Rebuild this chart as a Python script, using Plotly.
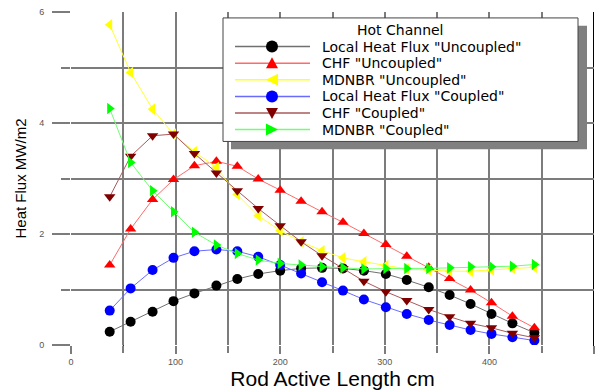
import plotly.graph_objects as go

# ---- data ----
rod_length = [37, 57, 78, 98, 118, 139, 159, 179, 200, 220, 240, 260, 280, 301,
              321, 342, 362, 382, 402, 422, 443]
lhf_uncoupled = [0.24, 0.42, 0.60, 0.79, 0.93, 1.07, 1.19, 1.28, 1.34, 1.38, 1.39,
                 1.38, 1.34, 1.28, 1.17, 1.04, 0.90, 0.74, 0.56, 0.39, 0.22]
chf_uncoupled = [1.44, 2.09, 2.62, 2.98, 3.23, 3.31, 3.22, 2.99, 2.79, 2.59, 2.40,
                 2.21, 2.01, 1.81, 1.60, 1.40, 1.20, 0.99, 0.76, 0.52, 0.31]
mdnbr_uncoupled = [5.77, 4.91, 4.25, 3.80, 3.48, 3.20, 2.71, 2.33, 2.06, 1.86, 1.70,
                   1.57, 1.50, 1.43, 1.37, 1.35, 1.33, 1.33, 1.35, 1.38, 1.40]
lhf_coupled = [0.62, 1.02, 1.35, 1.57, 1.69, 1.72, 1.69, 1.59, 1.44, 1.29, 1.13,
               0.98, 0.82, 0.68, 0.56, 0.45, 0.36, 0.27, 0.20, 0.14, 0.08]
chf_coupled = [2.67, 3.40, 3.77, 3.80, 3.45, 3.10, 2.78, 2.46, 2.15, 1.86, 1.61,
               1.38, 1.15, 0.96, 0.80, 0.64, 0.51, 0.39, 0.31, 0.21, 0.13]
mdnbr_coupled = [4.26, 3.29, 2.78, 2.40, 2.03, 1.80, 1.65, 1.53, 1.47, 1.44, 1.41,
                 1.39, 1.37, 1.38, 1.38, 1.38, 1.39, 1.41, 1.41, 1.42, 1.45]

legend_title = 'Hot Channel'
series_names = ['Local Heat Flux "Uncoupled"', 'CHF "Uncoupled"', 'MDNBR "Uncoupled"',
                'Local Heat Flux "Coupled"', 'CHF "Coupled"', 'MDNBR "Coupled"']
series_values = [lhf_uncoupled, chf_uncoupled, mdnbr_uncoupled,
                 lhf_coupled, chf_coupled, mdnbr_coupled]
marker_colors = ['#000000', '#ff0000', '#ffff00', '#0000ff', '#800000', '#00ff00']
line_colors = ['#707070', '#ff6a6a', '#ffff30', '#6a6aff', '#a85a5a', '#70ff70']
symbols = ['circle', 'triangle-up', 'triangle-left', 'circle', 'triangle-down', 'triangle-right']

x_tick_vals = [0, 100, 200, 300, 400, 500]
y_tick_vals = [0, 2, 4, 6]

# ---- figure geometry (pixels) ----
W, H = 601, 392
ML, MR, MT, MB = 71, 7, 8, 47
PW, PH = W - ML - MR, H - MT - MB


def px_x(p):
    return (p - ML) / PW


def px_y(p):
    return (H - MB - p) / PH


fig = go.Figure()
for name, vals, mc, lc, sym in zip(series_names, series_values, marker_colors,
                                   line_colors, symbols):
    fig.add_trace(go.Scatter(
        x=rod_length, y=vals, name=name, mode='lines+markers',
        line=dict(color=lc, width=1),
        marker=dict(color=mc, symbol=sym, size=10, line=dict(width=0)),
    ))

# ---- legend drawn as a boxed key (shapes + text annotations) ----
shapes = [
    dict(type='line', xref='x', yref='paper', x0=50, x1=50, y0=-0.02, y1=1,
         line=dict(color='black', width=1), layer='below'),
    dict(type='line', xref='x', yref='paper', x0=500, x1=500, y0=-0.024, y1=1,
         line=dict(color='black', width=2), layer='below'),
    dict(type='rect', xref='paper', yref='paper',
         x0=px_x(231), x1=px_x(587), y0=px_y(147), y1=px_y(22),
         fillcolor='#808080', line=dict(width=0), layer='above'),
    dict(type='rect', xref='paper', yref='paper',
         x0=px_x(223), x1=px_x(578), y0=px_y(139), y1=px_y(14),
         fillcolor='white', line=dict(color='#444444', width=1), layer='above'),
]
LEG_FONT = dict(family='DejaVu Sans, sans-serif', size=14, color='black')
annotations = [
    dict(text=legend_title, xref='paper', yref='paper', x=px_x(400), y=px_y(26),
         xanchor='center', yanchor='middle', showarrow=False, font=LEG_FONT,
         borderpad=0),
]

tri_paths = {
    'triangle-up': 'M -6 -5 L 6 -5 L 0 6 Z',
    'triangle-down': 'M -6 5 L 6 5 L 0 -6 Z',
    'triangle-left': 'M 6 -6 L 6 6 L -6 0 Z',
    'triangle-right': 'M -6 -6 L -6 6 L 6 0 Z',
}
row_y0, row_dy = 43, 16.8
for i, (name, mc, lc, sym) in enumerate(zip(series_names, marker_colors, line_colors, symbols)):
    ry = px_y(row_y0 + i * row_dy)
    shapes.append(dict(type='line', xref='paper', yref='paper',
                       x0=px_x(235), x1=px_x(310), y0=ry, y1=ry,
                       line=dict(color=lc, width=1.5), layer='above'))
    if sym == 'circle':
        shapes.append(dict(type='circle', xref='paper', yref='paper',
                           xsizemode='pixel', ysizemode='pixel',
                           xanchor=px_x(272), yanchor=ry, x0=-6, x1=6, y0=-6, y1=6,
                           fillcolor=mc, line=dict(width=0), layer='above'))
    else:
        shapes.append(dict(type='path', xref='paper', yref='paper',
                           xsizemode='pixel', ysizemode='pixel',
                           xanchor=px_x(272), yanchor=ry, path=tri_paths[sym],
                           fillcolor=mc, line=dict(width=0), layer='above'))
    annotations.append(dict(text=name, xref='paper', yref='paper', x=px_x(321), y=ry,
                            xanchor='left', yanchor='middle', showarrow=False,
                            font=LEG_FONT, borderpad=0))

GRID = '#7c7c7c'
fig.update_layout(
    width=W, height=H,
    margin=dict(l=ML, r=MR, t=MT, b=MB),
    paper_bgcolor='white', plot_bgcolor='white',
    font=dict(family='Liberation Sans, Arial, sans-serif', color='black'),
    showlegend=False,
    xaxis=dict(
        range=[0, 500], tickvals=x_tick_vals, showgrid=True, gridcolor=GRID, gridwidth=2,
        zeroline=False, showline=False,
        ticks='outside', ticklen=8, tickwidth=2, tickcolor=GRID,
        minor=dict(dtick=50, showgrid=True, gridcolor=GRID, gridwidth=2,
                   ticks='outside', ticklen=7, tickwidth=2, tickcolor=GRID),
        tickfont=dict(size=9, color='#555555'),
        title=dict(text='Rod Active Length cm', font=dict(size=21, color='black'),
                   standoff=3),
    ),
    yaxis=dict(
        range=[0, 6], tickvals=y_tick_vals, showgrid=True, gridcolor=GRID, gridwidth=2,
        zeroline=False, showline=False,
        ticks='outside', ticklen=18, tickwidth=2, tickcolor=GRID,
        ticklabelstandoff=6,
        minor=dict(dtick=1, showgrid=True, gridcolor=GRID, gridwidth=2,
                   ticks='outside', ticklen=9, tickwidth=2, tickcolor=GRID),
        tickfont=dict(size=9, color='#555555'),
        title=dict(text='Heat Flux MW/m2', font=dict(size=15, color='black'),
                   standoff=8),
    ),
    shapes=shapes,
    annotations=annotations,
)

fig.write_html('out.html')
